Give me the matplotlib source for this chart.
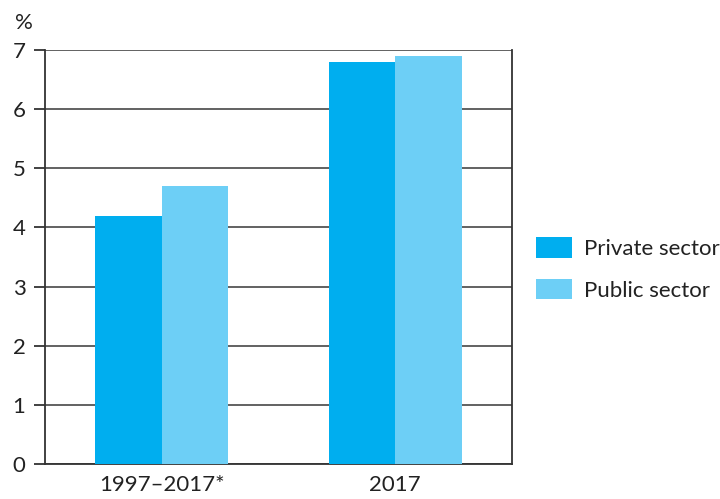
import matplotlib
matplotlib.use("Agg")
import matplotlib.pyplot as plt
import numpy as np

categories = ["1997\u20132017*", "2017"]
private_sector = [4.2, 6.8]
public_sector = [4.7, 6.9]
y_ticks = [0, 1, 2, 3, 4, 5, 6, 7]

plt.rcParams["font.family"] = ["Lato", "DejaVu Sans"]

fig = plt.figure(figsize=(7.2, 4.99), dpi=100)
ax = fig.add_axes([45 / 720, 1 - 464 / 499, (512 - 45) / 720, (464 - 50) / 499])

x = np.arange(len(categories))
w = 0.285
ax.bar(x - w / 2, private_sector, w, color="#00AEEF", label="Private sector", zorder=3)
ax.bar(x + w / 2, public_sector, w, color="#6DCFF6", label="Public sector", zorder=3)

ax.set_xlim(-0.5, 1.5)
ax.set_ylim(0, 7)
ax.set_yticks(y_ticks)
ax.set_xticks(x)
ax.set_xticklabels(categories)
ax.yaxis.grid(True, color="#555555", linewidth=1.3, zorder=1)

for s in ax.spines.values():
    s.set_color("#333333")
    s.set_linewidth(1.3)
ax.spines["top"].set_visible(False)

ax.tick_params(axis="y", length=8, width=1.3, color="#333333", labelsize=16, pad=6,
               labelcolor="#222222")
ax.tick_params(axis="x", length=0, labelsize=16, pad=8, labelcolor="#222222")

fig.text(15 / 720, 1 - 23 / 499, "%", fontsize=16, color="#222222", va="center", ha="left")

ax.legend(loc="upper left", bbox_to_anchor=(536 / 720, 1 - 237 / 499),
          bbox_transform=fig.transFigure, frameon=False, fontsize=16,
          borderpad=0, borderaxespad=0,
          handlelength=1.6, handleheight=1.05, handletextpad=0.55, labelspacing=0.9,
          labelcolor="#222222")

fig.savefig("out.png", dpi=100)
